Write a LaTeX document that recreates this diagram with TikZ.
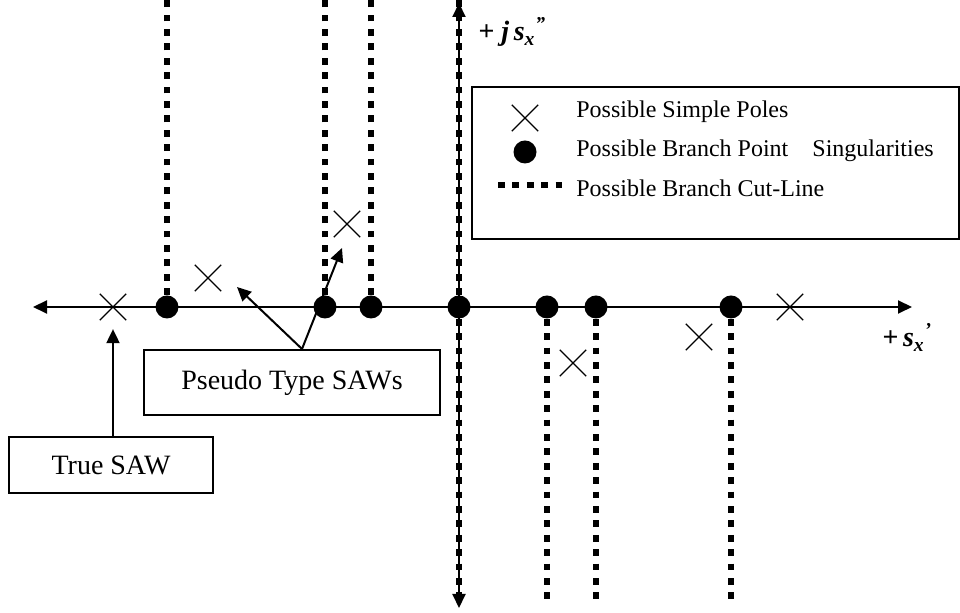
\documentclass[tikz,border=0pt]{standalone}
\usepackage{fontspec}
\setmainfont{Liberation Serif}
\usetikzlibrary{arrows.meta,shapes.misc}

\begin{document}
\begin{tikzpicture}[x=.5pt, y=-.5pt,
		tip/.style={-{Triangle[length=7pt,width=6.5pt]}},
		cut/.style={line width=3.4pt, dash pattern=on 3.4pt off 3.8pt},
		pt/.style={circle, fill, inner sep=0pt, minimum size=11.5pt},
		pole/.style={cross out, draw, line width=.65pt, inner sep=0pt, minimum size=12.5pt},
		box/.style={draw, line width=1pt, inner sep=0pt, font=\fontsize{14}{16}\selectfont},
		axlabel/.style={anchor=base west, inner sep=0pt, font=\fontsize{14}{16}\selectfont\bfseries\itshape}]
	\useasboundingbox (0,0) rectangle (960,613);
	\coordinate (top) at (0,0);
	\coordinate (bot) at (0,605);
	% branch points and their cut lines
	\node foreach \x/\n in {167/1,325/2,371/3,459/4,547/5,596/6,731/7} [pt] (b\n) at (\x,307) {};
	\draw[cut] foreach \n in {1,2,3,4} {(b\n) -- (b\n |- top)};
	\draw[cut] foreach \n in {4,5,6,7} {(b\n) -- (b\n |- bot)};
	% axes
	\coordinate (xl) at (33,307);
	\coordinate (xr) at (912,307);
	\coordinate (yt) at (459,3);
	\coordinate (yb) at (459,608);
	\draw[{Triangle[length=7pt,width=6.5pt]}-{Triangle[length=7pt,width=6.5pt]}, line width=1pt] (xl) -- (xr);
	\draw[{Triangle[length=7pt,width=6.5pt]}-{Triangle[length=7pt,width=6.5pt]}, line width=1pt] (yb) -- (yt);
	\node[axlabel] (imag) at (478,41) {+ j\,s\textsubscript{x}\textsuperscript{''}};
	\node[axlabel] (real) at (882,347) {+\,s\textsubscript{x}\textsuperscript{'}};
	% poles
	\node[pole] (p1) at (113,307) {};
	\node[pole] (p2) at (208,278) {};
	\node[pole] (p3) at (347,224) {};
	\node[pole] (p4) at (573,363) {};
	\node[pole] (p5) at (699,337) {};
	\node[pole] (p6) at (790,307) {};
	% SAW boxes
	\node[box, minimum width=102pt, minimum height=28pt] (true) at (111,465) {True SAW};
	\node[box, minimum width=148pt, minimum height=32.5pt] (pseudo) at (292,382.5) {Pseudo Type SAWs};
	\draw[tip, line width=1pt] (p1 |- true.north) -- ([yshift=-4.5pt]p1.south);
	\draw[tip, line width=1pt] ([xshift=5pt]pseudo.north) -- ([shift={(29,9)}]p2.center);
	\draw[tip, line width=1pt] ([xshift=5pt]pseudo.north) -- ([shift={(-5,24)}]p3.center);
	% legend
	\node[draw, line width=.9pt, anchor=north west, inner sep=0pt, minimum width=243.5pt, minimum height=76pt] (legend) at (471,86) {};
	\node[pole] (lp) at (525,118) {};
	\node[pt] (lb) at (525,152) {};
	\coordinate (lc1) at (498,185);
	\coordinate (lc2) at (565,185);
	\draw[cut] (lc1) -- (lc2);
	\begin{scope}[every node/.style={anchor=base west, inner sep=0pt, font=\fontsize{12}{14}\selectfont}]
		\node (t1) at (576,118) {Possible Simple Poles};
		\node (t2) at (576,157) {Possible Branch Point\quad Singularities};
		\node (t3) at (576,197) {Possible Branch Cut-Line};
	\end{scope}
\end{tikzpicture}
\end{document}
